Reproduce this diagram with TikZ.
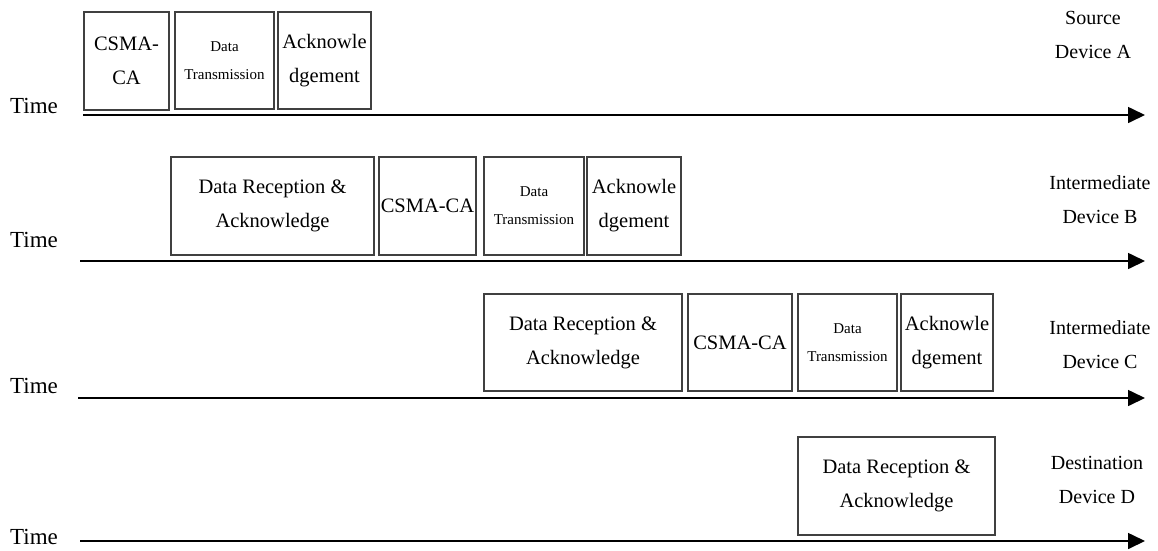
\documentclass[tikz,border=0pt]{standalone}
\usepackage{fontspec}
\setmainfont{Liberation Serif}
\usetikzlibrary{arrows.meta}

\begin{document}
\begin{tikzpicture}[x=1pt,y=-1pt,>={Triangle[length=17pt,width=16pt]}]
  \tikzset{
    slot/.style={draw=black!75,line width=1.3pt,align=center,inner sep=0pt,
      font=\fontsize{20.5}{34}\selectfont},
    smallslot/.style={slot,font=\fontsize{15}{28}\selectfont},
    timeline/.style={->,line width=1.6pt},
    timelabel/.style={anchor=west,inner sep=0pt,font=\fontsize{23}{28}\selectfont},
    devlabel/.style={align=center,inner sep=0pt,font=\fontsize{20}{34}\selectfont}
  }
  \useasboundingbox (0,0) rectangle (1158,550);
  %
  % Axis ends
  \def\tipx{1145}
  \coordinate (startA) at (83,115);   \coordinate (endA) at (\tipx,115);
  \coordinate (startB) at (80,261);   \coordinate (endB) at (\tipx,261);
  \coordinate (startC) at (78,398);   \coordinate (endC) at (\tipx,398);
  \coordinate (startD) at (80,541);   \coordinate (endD) at (\tipx,541);
  %
  % Source device A
  \node[timelabel] (timeA) at (10,106) {Time};
  \node[slot,minimum width=85pt,minimum height=98pt] (csmaA) at (126.5,61) {CSMA-\\CA};
  \node[smallslot,minimum width=99pt,minimum height=97pt] (txA) at (224.5,60.5) {Data\\Transmission};
  \node[slot,minimum width=93pt,minimum height=97pt] (ackA) at (324.5,60.5) {Acknowle\\dgement};
  \node[devlabel] (devA) at (1093,35) {Source\\Device A};
  \draw[timeline] (startA) -- (endA);
  %
  % Intermediate device B
  \node[timelabel] (timeB) at (10,240) {Time};
  \node[slot,minimum width=203pt,minimum height=98pt] (rxB) at (272.5,206) {Data Reception \&\\Acknowledge};
  \node[slot,minimum width=97pt,minimum height=98pt] (csmaB) at (427.5,206) {CSMA-CA};
  \node[smallslot,minimum width=100pt,minimum height=98pt] (txB) at (534,206) {Data\\Transmission};
  \node[slot,minimum width=94pt,minimum height=98pt] (ackB) at (634,206) {Acknowle\\dgement};
  \node[devlabel] (devB) at (1100,200) {Intermediate\\Device B};
  \draw[timeline] (startB) -- (endB);
  %
  % Intermediate device C
  \node[timelabel] (timeC) at (10,386) {Time};
  \node[slot,minimum width=198pt,minimum height=97pt] (rxC) at (583,342.5) {Data Reception \&\\Acknowledge};
  \node[slot,minimum width=104pt,minimum height=97pt] (csmaC) at (740,342.5) {CSMA-CA};
  \node[smallslot,minimum width=99pt,minimum height=97pt] (txC) at (847.5,342.5) {Data\\Transmission};
  \node[slot,minimum width=92pt,minimum height=97pt] (ackC) at (947,342.5) {Acknowle\\dgement};
  \node[devlabel] (devC) at (1100,344.5) {Intermediate\\Device C};
  \draw[timeline] (startC) -- (endC);
  %
  % Destination device D
  \node[timelabel] (timeD) at (10,537) {Time};
  \node[slot,minimum width=197pt,minimum height=98pt] (rxD) at (896.5,486) {Data Reception \&\\Acknowledge};
  \node[devlabel] (devD) at (1097,479.5) {Destination\\Device D};
  \draw[timeline] (startD) -- (endD);
  %
\end{tikzpicture}
\end{document}
